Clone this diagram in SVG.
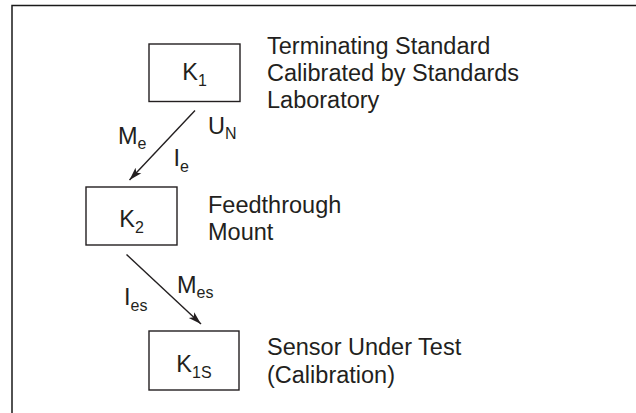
<svg xmlns="http://www.w3.org/2000/svg" width="636" height="413" viewBox="0 0 636 413">
  <defs>
    <style>
      .frame { fill: none; stroke: #1a1a1a; stroke-width: 1.5; }
      .box { fill: #ffffff; stroke: #231f20; stroke-width: 1.4; }
      .wire { fill: none; stroke: #231f20; stroke-width: 1.4; }
      text { font-family: "Liberation Sans", Arial, Helvetica, sans-serif; font-size: 23.5px; fill: #231f20; }
      .sub { font-size: 16px; }
    </style>
    <marker id="arrow" markerWidth="14" markerHeight="10" refX="13" refY="5" orient="auto" markerUnits="userSpaceOnUse">
      <path d="M0,1 L13,5 L0,9 L3,5 Z" fill="#231f20"/>
    </marker>
  </defs>

  <rect width="636" height="413" fill="#ffffff"/>

  <!-- page frame: top and left rules -->
  <path class="frame" d="M12,413 V5.5 H636"/>

  <!-- terminating standard -->
  <g id="k1">
    <rect class="box" x="149" y="44" width="91" height="57.5"/>
    <text x="194.5" y="80" text-anchor="middle">K<tspan class="sub" dy="5.5">1</tspan></text>
    <text x="267" y="53.5">Terminating Standard</text>
    <text x="267" y="80.5">Calibrated by Standards</text>
    <text x="267" y="107.5">Laboratory</text>
  </g>

  <!-- feedthrough mount -->
  <g id="k2">
    <rect class="box" x="86" y="187" width="91" height="58"/>
    <text x="131.5" y="227" text-anchor="middle">K<tspan class="sub" dy="5.5">2</tspan></text>
    <text x="208" y="212.5">Feedthrough</text>
    <text x="208" y="240">Mount</text>
  </g>

  <!-- sensor under test -->
  <g id="k1s">
    <rect class="box" x="149" y="331" width="90" height="59"/>
    <text x="194" y="372" text-anchor="middle">K<tspan class="sub" dy="5.5">1S</tspan></text>
    <text x="267" y="355">Sensor Under Test</text>
    <text x="267" y="383">(Calibration)</text>
  </g>

  <!-- connectors with their labels -->
  <g id="connectors">
    <line class="wire" x1="195" y1="110.5" x2="129.5" y2="180" marker-end="url(#arrow)"/>
    <line class="wire" x1="126.5" y1="254.5" x2="201" y2="324" marker-end="url(#arrow)"/>
    <text x="118" y="143.5">M<tspan class="sub" dy="5">e</tspan></text>
    <text x="208" y="134">U<tspan class="sub" dy="4.5">N</tspan></text>
    <text x="173.5" y="165.5">I<tspan class="sub" dy="6">e</tspan></text>
    <text x="177" y="292.5">M<tspan class="sub" dy="5">es</tspan></text>
    <text x="124" y="304.5">I<tspan class="sub" dy="6">es</tspan></text>
  </g>
</svg>
